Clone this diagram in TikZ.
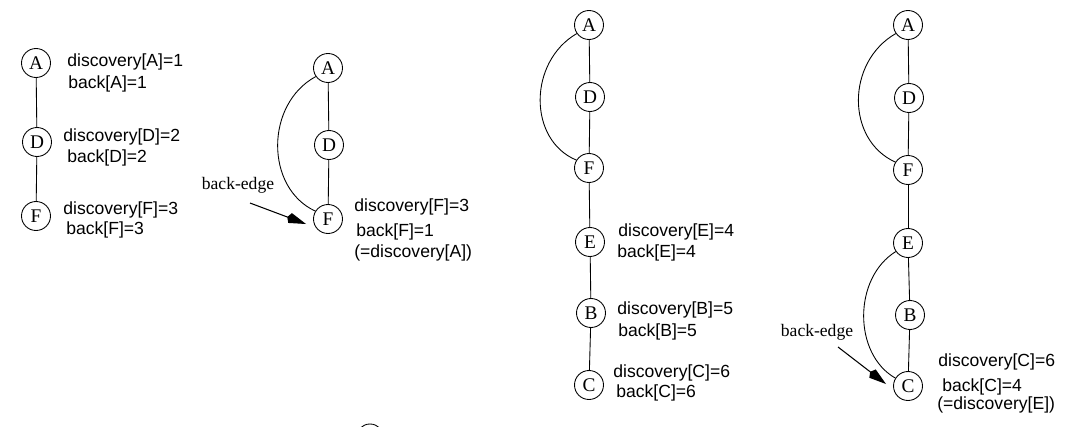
\documentclass[tikz,border=0pt]{standalone}
\usepackage{fontspec}
\setmainfont{Liberation Serif}
\setsansfont{Liberation Sans}
\usetikzlibrary{arrows.meta}

\begin{document}
\begin{tikzpicture}[x=0.02cm,y=-0.02cm,
   vert/.style={circle,draw,line width=0.5pt,minimum size=0.58cm,inner sep=0pt,font=\fontsize{11}{13}\selectfont},
   info/.style={anchor=west,inner sep=0pt,font=\sffamily\fontsize{10}{12}\selectfont},
   tree/.style={black,line width=0.5pt},
   backlbl/.style={inner sep=0pt,font=\fontsize{10}{12}\selectfont},
   pointer/.style={black,line width=0.6pt,-{Kite[length=0.4cm,width=0.21cm,inset=0.06cm]}}]
  \useasboundingbox (0,0) rectangle (1078,426);
  % first step: A, D, F
  \node (A1) at (36, 63)[vert]{A};
         \node (D1) at (37, 142)[vert]{D};
         \node (F1) at (36, 216)[vert]{F};
         \draw [tree] (A1) -- (D1);
         \draw [tree] (D1) -- (F1);
         \node (dA1) at (67, 62)[info]{discovery[A]=1};
         \node (bA1) at (68, 84)[info]{back[A]=1};
         \node (dD1) at (63, 137)[info]{discovery[D]=2};
         \node (bD1) at (67, 158)[info]{back[D]=2};
         \node (dF1) at (63, 210)[info]{discovery[F]=3};
         \node (bF1) at (66, 230)[info]{back[F]=3};
  % second step: back-edge F to A
  \node (A2) at (328, 68)[vert]{A};
         \node (D2) at (329, 145)[vert]{D};
         \node (F2) at (328, 219)[vert]{F};
         \draw [tree] (A2) -- (D2);
         \draw [tree] (D2) -- (F2);
         \draw [tree] (A2.215) .. controls (265, 104) and (265, 188) .. (F2.148);
         \node (BE1) at (238, 185)[backlbl]{back-edge};
         \coordinate (bs1) at (250, 203);
         \coordinate (bt1) at (306, 224);
         \draw [pointer] (bs1) -- (bt1);
         \node (dF2) at (354, 207)[info]{discovery[F]=3};
         \node (bF2) at (356, 232)[info]{back[F]=1};
         \node (eA2) at (354, 253)[info]{(=discovery[A])};
  % third step: E, B, C
  \node (A3) at (589, 25)[vert]{A};
         \node (D3) at (590, 97)[vert]{D};
         \node (F3) at (589, 168)[vert]{F};
         \node (E3) at (590, 242)[vert]{E};
         \node (B3) at (591, 313)[vert]{B};
         \node (C3) at (589, 385)[vert]{C};
         \draw [tree] (A3) -- (D3);
         \draw [tree] (D3) -- (F3);
         \draw [tree] (F3) -- (E3);
         \draw [tree] (E3) -- (B3);
         \draw [tree] (B3) -- (C3);
         \draw [tree] (A3.215) .. controls (528, 62) and (528, 140) .. (F3.148);
         \node (dE3) at (618, 232)[info]{discovery[E]=4};
         \node (bE3) at (617, 253)[info]{back[E]=4};
         \node (dB3) at (617, 310)[info]{discovery[B]=5};
         \node (bB3) at (618, 332)[info]{back[B]=5};
         \node (dC3) at (613, 373)[info]{discovery[C]=6};
         \node (bC3) at (616, 393)[info]{back[C]=6};
  % fourth step: back-edge C to E
  \node (A4) at (908, 25)[vert]{A};
         \node (D4) at (909, 98)[vert]{D};
         \node (F4) at (908, 170)[vert]{F};
         \node (E4) at (908, 243)[vert]{E};
         \node (B4) at (910, 315)[vert]{B};
         \node (C4) at (908, 386)[vert]{C};
         \draw [tree] (A4) -- (D4);
         \draw [tree] (D4) -- (F4);
         \draw [tree] (F4) -- (E4);
         \draw [tree] (E4) -- (B4);
         \draw [tree] (B4) -- (C4);
         \draw [tree] (A4.215) .. controls (846, 62) and (846, 140) .. (F4.148);
         \draw [tree] (E4.215) .. controls (853, 278) and (853, 354) .. (C4.148);
         \node (BE2) at (817, 332)[backlbl]{back-edge};
         \coordinate (bs2) at (838, 347);
         \coordinate (bt2) at (886, 384);
         \draw [pointer] (bs2) -- (bt2);
         \node (dC4) at (938, 362)[info]{discovery[C]=6};
         \node (bC4) at (942, 387)[info]{back[C]=4};
         \node (eE4) at (937, 405)[info]{(=discovery[E])};
  % cut circle at the lower edge
  \begin{scope}
    \clip (0,0) rectangle (1078,426);
    \draw [tree] (370, 438) circle [radius=14];
  \end{scope}
    \end{tikzpicture}
\end{document}
